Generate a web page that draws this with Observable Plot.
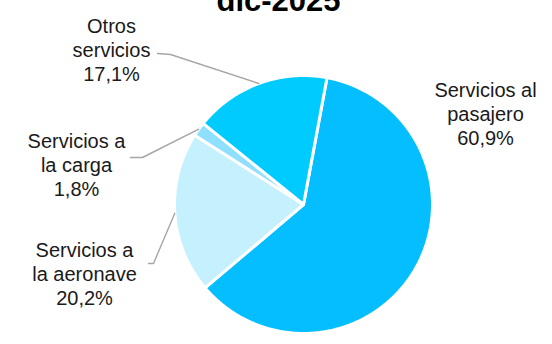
<!DOCTYPE html>
<html><head><meta charset="utf-8">
<script src="https://cdn.jsdelivr.net/npm/d3@7"></script>
<script src="https://cdn.jsdelivr.net/npm/@observablehq/plot@0.6"></script>
<style>body{margin:0;background:#fff} svg{display:block}</style>
</head><body><div id="chart"></div>
<script>
// ---- data ----
const title = "dic-2025";
const categories = ["Servicios al pasajero", "Servicios a la aeronave", "Servicios a la carga", "Otros servicios"];
const shares = [60.9, 20.2, 1.8, 17.1];
const labelNames = ["Servicios al\npasajero", "Servicios a\nla aeronave", "Servicios a\nla carga", "Otros\nservicios"];

// ---- styles / layout ----
const colors = ["#05BEFF", "#C5F1FF", "#8FE0FF", "#00CBFF"];
const W = 552, H = 344;
const cx = 303, cy = 204, r = 129;
const startAngle = 10.5; // degrees clockwise from 12 o'clock
// label layout in pixels: label centre (x, middle line y), leader elbow, leader end
const labelLayout = [
  {lx: 485, ly: 112.5},
  {lx: 84, ly: 272.5, ex: 153, ey: 263, tx: 148, ty: 263},
  {lx: 76, ly: 163.5, ex: 142, ey: 157, tx: 130, ty: 157},
  {lx: 111, ly: 48.5, ex: 170, ey: 54, tx: 157, ty: 53}
];

const fmt = v => v.toFixed(1).replace(".", ",") + "%";
const toX = px => (px - cx) / r;
const toY = py => (cy - py) / r;
const rad = d => d * Math.PI / 180;

const total = d3.sum(shares);
let acc = startAngle;
const slices = categories.map((c, i) => {
  const a0 = acc, a1 = acc + shares[i] / total * 360;
  acc = a1;
  return {name: c, a0, a1, mid: (a0 + a1) / 2, i};
});

const polyPts = [];
for (const s of slices) {
  polyPts.push({name: s.name, x: 0, y: 0});
  const n = Math.max(2, Math.ceil((s.a1 - s.a0) / 0.5));
  for (let k = 0; k <= n; k++) {
    const a = rad(s.a0 + (s.a1 - s.a0) * k / n);
    polyPts.push({name: s.name, x: Math.sin(a), y: Math.cos(a)});
  }
  polyPts.push({name: s.name, x: 0, y: 0});
}

const leaderPts = [];
slices.forEach((s, i) => {
  const L = labelLayout[i];
  if (L.ex === undefined) return;
  const a = rad(s.mid);
  leaderPts.push({name: s.name, x: Math.sin(a), y: Math.cos(a)});
  leaderPts.push({name: s.name, x: toX(L.ex), y: toY(L.ey)});
  leaderPts.push({name: s.name, x: toX(L.tx), y: toY(L.ty)});
});

const labels = slices.map((s, i) => ({
  text: labelNames[i] + "\n" + fmt(shares[i]),
  x: toX(labelLayout[i].lx), y: toY(labelLayout[i].ly)
}));

const chart = Plot.plot({
  width: W, height: H,
  margin: 0,
  style: {fontFamily: "'Liberation Sans', Arial, sans-serif", background: "#fff"},
  x: {domain: [-1, 1], range: [cx - r, cx + r], axis: null},
  y: {domain: [-1, 1], range: [cy + r, cy - r], axis: null},
  color: {domain: categories, range: colors},
  marks: [
    Plot.line(polyPts, {x: "x", y: "y", z: "name", fill: "name", stroke: "#fff", strokeWidth: 3, strokeLinejoin: "round", curve: "linear"}),
    Plot.line(leaderPts, {x: "x", y: "y", z: "name", stroke: "#A6A6A6", strokeWidth: 1.4, curve: "linear"}),
    Plot.text(labels, {x: "x", y: "y", text: "text", fontSize: 20, lineHeight: 1.2, lineAnchor: "middle", textAnchor: "middle", fill: "#1a1a1a"}),
    Plot.text([title], {frameAnchor: "top-left", dx: 278, dy: 10, lineAnchor: "bottom", textAnchor: "middle", fontSize: 31, fontWeight: "bold", fill: "#000"})
  ]
});
document.getElementById("chart").appendChild(chart);
</script>
</body></html>
